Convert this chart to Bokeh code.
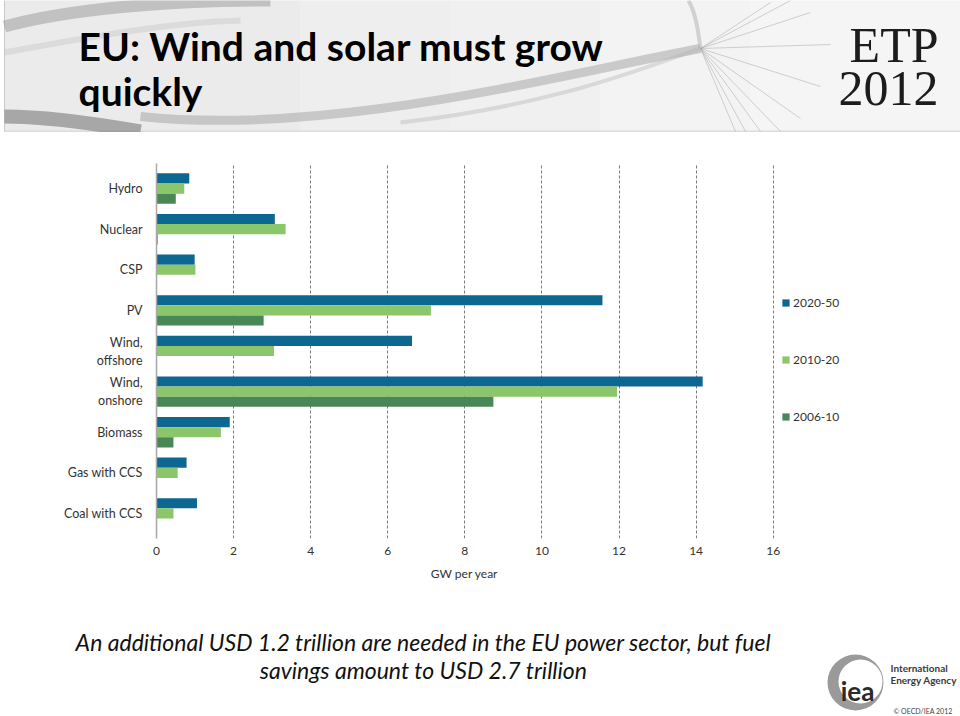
from bokeh.plotting import figure
from bokeh.models import Range1d, FactorRange, Legend, LegendItem, FixedTicker
from bokeh.transform import dodge
from bokeh.core.properties import value
from bokeh.embed import file_html
from bokeh.resources import INLINE

# ---------------- data ----------------
categories = ["Hydro", "Nuclear", "CSP", "PV", "Wind, offshore", "Wind, onshore",
              "Biomass", "Gas with CCS", "Coal with CCS"]
category_labels = {"Wind, offshore": "Wind,\noffshore", "Wind, onshore": "Wind,\nonshore"}
s2020_50 = [0.85, 3.07, 0.99, 11.57, 6.63, 14.17, 1.90, 0.78, 1.05]
s2010_20 = [0.72, 3.35, 1.01, 7.12, 3.05, 11.95, 1.67, 0.55, 0.44]
s2006_10 = [0.50, 0.03, 0.0, 2.78, 0.0, 8.74, 0.44, 0.0, 0.0]
series_labels = ["2020-50", "2010-20", "2006-10"]
x_ticks = [0, 2, 4, 6, 8, 10, 12, 14, 16]
x_view_max = 20.6          # frame extends right of 16 to hold the legend
x_label = "GW per year"
title_lines = ["EU: Wind and solar must grow", "quickly"]
badge_lines = ["ETP", "2012"]
footer_lines = ["An additional USD 1.2 trillion are needed in the EU power sector, but fuel",
                "savings amount to USD 2.7 trillion"]
logo_lines = ["International", "Energy Agency"]
copyright_text = "\u00a9 OECD/IEA 2012"

colors = ["#0c6791", "#8cc66b", "#4a8757"]
SANS = "Lato"
W = 960
display = [category_labels.get(c, c) for c in categories]


def blank(height, y0, y1):
    f = figure(width=W, height=height, x_range=Range1d(0, W), y_range=Range1d(y1, y0),
               output_backend="svg", toolbar_location=None,
               min_border=0, min_border_left=0, min_border_right=0,
               min_border_top=0, min_border_bottom=0)
    f.axis.visible = False
    f.grid.visible = False
    f.outline_line_color = None
    f.background_fill_color = "white"
    f.border_fill_color = "white"
    return f


# ---------------- header (page y 0..132) ----------------
h = blank(132, 0, 132)
band_left = [4, 300, 450, 600, 750]
band_fill = ["#ebebeb", "#eeeeee", "#f0f0f0", "#f3f3f3", "#f5f5f5"]
band_right = band_left[1:] + [960]
h.quad(left=band_left, right=band_right, top=[0] * 5, bottom=[131] * 5,
       fill_color=band_fill, line_color=band_fill, line_width=1)
h.segment(x0=[4], y0=[0], x1=[4], y1=[131], line_color="#c8c8c8", line_width=1)
h.segment(x0=[4], y0=[131], x1=[960], y1=[131], line_color="#dcdcdc", line_width=2)
h.bezier(x0=[4], y0=[26], x1=[270], y1=[0], cx0=[70], cy0=[8], cx1=[170], cy1=[0],
         line_color="#8f8f8f", line_width=12, line_alpha=0.45)
h.bezier(x0=[4], y0=[52], x1=[240], y1=[20], cx0=[60], cy0=[42], cx1=[160], cy1=[22],
         line_color="#bdbdbd", line_width=6, line_alpha=0.35)
h.bezier(x0=[4], y0=[116], x1=[140], y1=[131], cx0=[50], cy0=[116], cx1=[100], cy1=[124],
         line_color="#7a7a7a", line_width=14, line_alpha=0.6)
h.bezier(x0=[140], y0=[116], x1=[700], y1=[48], cx0=[330], cy0=[136], cx1=[560], cy1=[74],
         line_color="#9a9a9a", line_width=9, line_alpha=0.45)
h.bezier(x0=[400], y0=[122], x1=[700], y1=[48], cx0=[560], cy0=[104], cx1=[650], cy1=[64],
         line_color="#b5b5b5", line_width=4, line_alpha=0.4)
fx1 = [790, 810, 830, 820, 800, 780, 760, 745, 735, 770]
fy1 = [0, 12, 44, 86, 118, 131, 131, 131, 131, 2]
h.segment(x0=[700] * len(fx1), y0=[48] * len(fx1), x1=fx1, y1=fy1,
          line_color="#a8a8a8", line_width=1, line_alpha=0.5)
h.bezier(x0=[688], y0=[0], x1=[700], y1=[48], cx0=[696], cy0=[14], cx1=[698], cy1=[34],
         line_color="#b0b0b0", line_width=4, line_alpha=0.5)
h.text(x=[78, 78], y=[45, 90], text=title_lines, text_font=value(SANS),
       text_font_style="bold", text_font_size="39px", text_color="#000000",
       text_baseline="middle", text_align="left")
h.text(x=[938, 938], y=[44, 88], text=badge_lines, text_font=value("Liberation Serif"),
       text_font_size="50px", text_color="#1c1c1c", text_baseline="middle", text_align="right")

# ---------------- chart (page y 132..564) ----------------
p = figure(width=W, height=432, x_range=Range1d(0, x_view_max),
           y_range=FactorRange(factors=list(reversed(display)), range_padding=0.0262),
           output_backend="svg", toolbar_location=None,
           min_border_left=156, min_border_right=10, min_border_top=31, min_border_bottom=26)
p.outline_line_color = None
p.background_fill_color = "white"
p.border_fill_color = "white"

data = dict(cat=display, a=s2020_50, b=s2010_20, c=s2006_10)
rs = []
for key, off, col in zip(["a", "b", "c"], [0.25, 0.0, -0.25], colors):
    r = p.hbar(y=dodge("cat", off, range=p.y_range), right=key, left=0, height=0.25,
               source=data, fill_color=col, line_color=None)
    rs.append(r)

p.xaxis.ticker = FixedTicker(ticks=x_ticks)
p.xaxis.axis_line_color = None
p.xaxis.major_tick_line_color = None
p.xaxis.minor_tick_line_color = None
p.xaxis.major_tick_out = 0
p.xaxis.major_tick_in = 0
p.xaxis.major_label_standoff = 8
p.xaxis.major_label_text_font = SANS
p.xaxis.major_label_text_font_size = "12px"
p.xaxis.major_label_text_color = "#333333"

p.yaxis.axis_line_color = "#a8a8a8"
p.yaxis.axis_line_width = 1.5
p.yaxis.major_tick_line_color = None
p.yaxis.major_tick_out = 0
p.yaxis.major_tick_in = 0
p.yaxis.major_label_standoff = 14
p.yaxis.major_label_text_font = SANS
p.yaxis.major_label_text_font_size = "12.5px"
p.yaxis.major_label_text_color = "#333333"

p.ygrid.grid_line_color = None
p.xgrid.grid_line_color = "#7a7a7a"
p.xgrid.grid_line_dash = "3 2"
p.xgrid.grid_line_width = 1

legend = Legend(items=[LegendItem(label=l, renderers=[r]) for l, r in zip(series_labels, rs)],
                location=(625, 114), orientation="vertical",
                glyph_width=9, glyph_height=9, label_height=9, label_standoff=3,
                spacing=42, padding=0, margin=0, border_line_color=None,
                background_fill_alpha=0, label_text_font=SANS,
                label_text_font_size="12px", label_text_color="#333333")
p.add_layout(legend)

# ---------------- footer (page y 564..716) ----------------
f = blank(152, 564, 716)
f.text(x=[464], y=[573], text=[x_label], text_font=value(SANS), text_font_size="12px",
       text_color="#333333", text_baseline="middle", text_align="center")
f.text(x=[423, 423], y=[641, 669], text=footer_lines, text_font=value(SANS),
       text_font_style="italic", text_font_size="23px", text_color="#111111",
       text_baseline="middle", text_align="center")
f.scatter(x=[855], y=[682], size=56, marker="circle", fill_color="#9a9a9a", line_color=None)
f.scatter(x=[860], y=[681], size=44, marker="circle", fill_color="white", line_color=None)
f.text(x=[857], y=[690], text=["iea"], text_font=value(SANS), text_font_style="bold",
       text_font_size="26px", text_color="#2a2a2a", text_baseline="middle", text_align="center")
f.text(x=[890, 890], y=[667, 679], text=logo_lines, text_font=value(SANS),
       text_font_style="bold", text_font_size="10px", text_color="#3a3a3a",
       text_baseline="middle", text_align="left")
f.text(x=[893], y=[710], text=[copyright_text], text_font=value(SANS),
       text_font_size="7px", text_color="#444444", text_baseline="middle", text_align="left")

open("out.html", "w").write(file_html([h, p, f], INLINE))
